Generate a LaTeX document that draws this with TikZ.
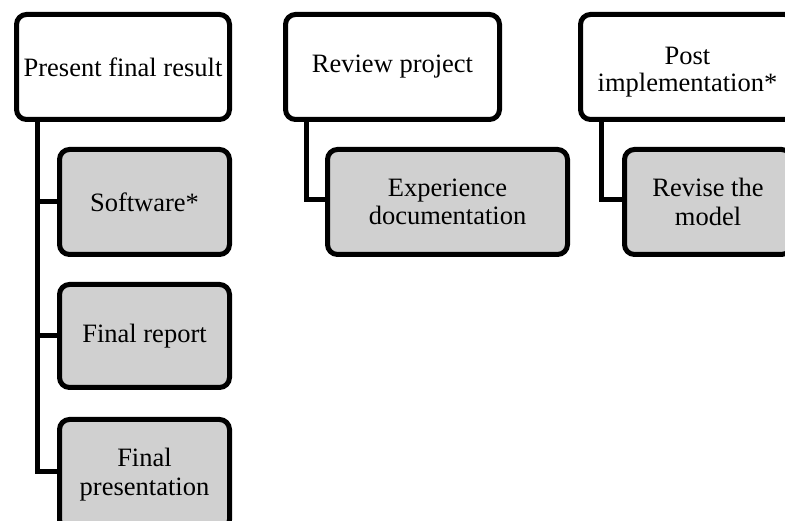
\documentclass[tikz,border=0pt]{standalone}
\usepackage{fontspec}
\setmainfont{Liberation Serif}
\usetikzlibrary{backgrounds}
\definecolor{boxgray}{RGB}{208,208,208}
\tikzset{
  box/.style={draw=black, line width=5pt, rounded corners=10pt, align=center,
    inner sep=0pt, font=\fontsize{26.5}{28.5}\selectfont, text=black},
  topbox/.style={box, fill=white},
  subbox/.style={box, fill=boxgray},
  link/.style={draw=black, line width=5pt, line join=miter}
}
\begin{document}
\begin{tikzpicture}[x=1pt,y=1pt]
  \useasboundingbox (0,0) rectangle (785,521);
  \clip (0,0) rectangle (785,521);

  % x positions of the vertical connector lines
  \coordinate (k1) at (37.5,0);
  \coordinate (k2) at (306.5,0);
  \coordinate (k3) at (601.5,0);

  % top-level boxes
  \node[topbox, minimum width=213pt, minimum height=105pt] (p1) at (123,454) {Present final result};
  \node[topbox, minimum width=214pt, minimum height=105pt] (p2) at (392.5,454) {Review project};
  \node[topbox, minimum width=214pt, minimum height=105pt] (p3) at (687.5,454) {\rule{0pt}{28pt}Post\\[-1pt]implementation*};

  % sub-boxes
  \node[subbox, minimum width=170pt, minimum height=105pt] (c11) at (144.5,319) {Software*};
  \node[subbox, minimum width=170pt, minimum height=103pt] (c12) at (144.5,185) {Final report};
  \node[subbox, minimum width=170pt, minimum height=110pt] (c13) at (144.5,46.5) {Final\\presentation};
  \node[subbox, minimum width=240pt, minimum height=105pt] (c21) at (447.5,319) {Experience\\documentation};
  \node[subbox, minimum width=167pt, minimum height=105pt] (c31) at (708,319) {Revise the\\model};

  % connectors behind the boxes
  \begin{pgfonlayer}{background}
    \draw[link] (p1.south -| k1) |- ([yshift=2.5pt]c13.west);
    \draw[link] (c11.west -| k1) -- (c11.west);
    \draw[link] (c12.west -| k1) -- (c12.west);
    \draw[link] (p2.south -| k2) |- ([yshift=2pt]c21.west);
    \draw[link] (p3.south -| k3) |- ([yshift=2pt]c31.west);
  \end{pgfonlayer}
\end{tikzpicture}
\end{document}
